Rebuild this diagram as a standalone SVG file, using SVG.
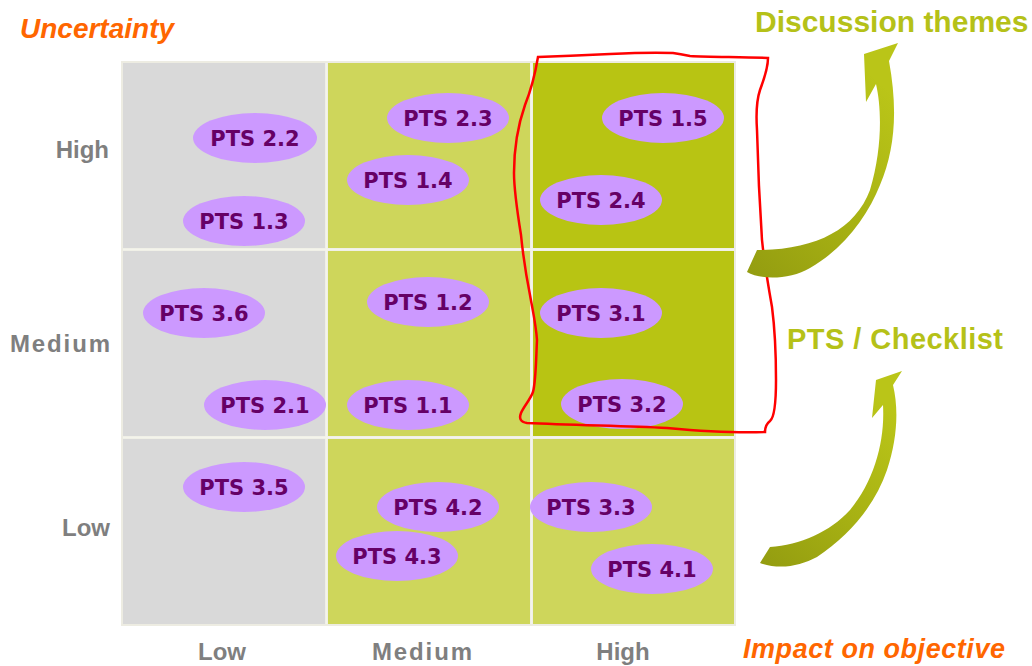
<svg xmlns="http://www.w3.org/2000/svg" width="1032" height="666" viewBox="0 0 1032 666">
<style>
.pill{fill:#CC99FF}
.pt{font-family:"DejaVu Sans",Verdana,sans-serif;font-weight:bold;font-size:21px;fill:#660066;text-anchor:middle}
.ax{font-family:"Liberation Sans",Arial,sans-serif;font-weight:bold;font-size:24px;fill:#7F7F7F}
.or{font-family:"Liberation Sans",Arial,sans-serif;font-weight:bold;font-style:italic;fill:#FF6600}
.gr{font-family:"Liberation Sans",Arial,sans-serif;font-weight:bold;fill:#B5C118}
.grey{fill:#D9D9D9}.lg{fill:#CED65B}.dg{fill:#B8C413}
</style>
<defs>
<linearGradient id="ag" x1="0" y1="1" x2="0.6" y2="0">
<stop offset="0" stop-color="#939C10"/>
<stop offset="0.45" stop-color="#A6B013"/>
<stop offset="1" stop-color="#BAC518"/>
</linearGradient>
</defs>
<rect width="1032" height="666" fill="#FFFFFF"/>
<g id="grid">
<rect x="121" y="61" width="615" height="565" fill="#EDECE2"/>
<rect class="grey" x="123" y="63" width="202" height="185"/>
<rect class="grey" x="123" y="251" width="202" height="185"/>
<rect class="grey" x="123" y="439" width="202" height="185"/>
<rect class="lg" x="328" y="63" width="202" height="185"/>
<rect class="lg" x="328" y="251" width="202" height="185"/>
<rect class="lg" x="328" y="439" width="202" height="185"/>
<rect class="dg" x="533" y="63" width="201" height="185"/>
<rect class="dg" x="533" y="251" width="201" height="185"/>
<rect class="lg" x="533" y="439" width="201" height="185"/>
<line x1="326.5" y1="63" x2="326.5" y2="624" stroke="#F4F4EC" stroke-width="2"/>
<line x1="531.5" y1="63" x2="531.5" y2="624" stroke="#F4F4EC" stroke-width="2"/>
<line x1="123" y1="249.5" x2="734" y2="249.5" stroke="#F4F4EC" stroke-width="2"/>
<line x1="123" y1="437.5" x2="734" y2="437.5" stroke="#F4F4EC" stroke-width="2"/>
</g>
<g id="labels">
<text class="or" x="20" y="38" font-size="28">Uncertainty</text>
<text class="or" x="743" y="658" font-size="27" textLength="262">Impact on objective</text>
<text class="gr" x="755" y="32" font-size="30">Discussion themes</text>
<text class="gr" x="787" y="349" font-size="29" textLength="216">PTS / Checklist</text>
<text class="ax" x="109" y="158" text-anchor="end">High</text>
<text class="ax" x="110" y="352" text-anchor="end" textLength="100">Medium</text>
<text class="ax" x="110" y="536" text-anchor="end">Low</text>
<text class="ax" x="222" y="660" text-anchor="middle">Low</text>
<text class="ax" x="422" y="660" text-anchor="middle" textLength="100">Medium</text>
<text class="ax" x="623" y="660" text-anchor="middle">High</text>
</g>
<g id="pts-2-2"><ellipse class="pill" cx="255" cy="138" rx="62" ry="25"/><text class="pt" x="255" y="146">PTS 2.2</text></g>
<g id="pts-1-3"><ellipse class="pill" cx="244" cy="221" rx="61" ry="25"/><text class="pt" x="244" y="229">PTS 1.3</text></g>
<g id="pts-2-3"><ellipse class="pill" cx="448" cy="118" rx="61" ry="25"/><text class="pt" x="448" y="126">PTS 2.3</text></g>
<g id="pts-1-4"><ellipse class="pill" cx="408" cy="180" rx="61" ry="25"/><text class="pt" x="408" y="188">PTS 1.4</text></g>
<g id="pts-1-5"><ellipse class="pill" cx="663" cy="118" rx="61" ry="25"/><text class="pt" x="663" y="126">PTS 1.5</text></g>
<g id="pts-2-4"><ellipse class="pill" cx="601" cy="200" rx="61" ry="25"/><text class="pt" x="601" y="208">PTS 2.4</text></g>
<g id="pts-3-6"><ellipse class="pill" cx="204" cy="313" rx="61" ry="25"/><text class="pt" x="204" y="321">PTS 3.6</text></g>
<g id="pts-1-2"><ellipse class="pill" cx="428" cy="302" rx="61" ry="25"/><text class="pt" x="428" y="310">PTS 1.2</text></g>
<g id="pts-3-1"><ellipse class="pill" cx="601" cy="313" rx="61" ry="25"/><text class="pt" x="601" y="321">PTS 3.1</text></g>
<g id="pts-2-1"><ellipse class="pill" cx="265" cy="405" rx="61" ry="25"/><text class="pt" x="265" y="413">PTS 2.1</text></g>
<g id="pts-1-1"><ellipse class="pill" cx="408" cy="405" rx="61" ry="25"/><text class="pt" x="408" y="413">PTS 1.1</text></g>
<g id="pts-3-2"><ellipse class="pill" cx="622" cy="404" rx="61" ry="25"/><text class="pt" x="622" y="412">PTS 3.2</text></g>
<g id="pts-3-5"><ellipse class="pill" cx="244" cy="487" rx="61" ry="25"/><text class="pt" x="244" y="495">PTS 3.5</text></g>
<g id="pts-4-2"><ellipse class="pill" cx="438" cy="507" rx="61" ry="25"/><text class="pt" x="438" y="515">PTS 4.2</text></g>
<g id="pts-4-3"><ellipse class="pill" cx="397" cy="556" rx="61" ry="25"/><text class="pt" x="397" y="564">PTS 4.3</text></g>
<g id="pts-3-3"><ellipse class="pill" cx="591" cy="507" rx="61" ry="25"/><text class="pt" x="591" y="515">PTS 3.3</text></g>
<g id="pts-4-1"><ellipse class="pill" cx="652" cy="569" rx="61" ry="25"/><text class="pt" x="652" y="577">PTS 4.1</text></g>
<g id="highlight">
<path d="M538,57 C560,56 590,55 610,54 C630,53 650,52 673,53 C680,54 685,55 690,56 C710,57 740,57 768,58 C768,66 766,74 760,90 C756,102 756,115 757,130 C758,170 760,210 762,240 C764,260 769,290 772,307 C775,330 776,360 776,380 C776,400 775,417 770,421 C766,424 765,428 765,432 C740,433 700,431 667,428 C620,426 570,425 527,423 C520,422 519,418 521,413 C524,406 530,400 533,392 C536,380 536,360 537,340 C536,325 533,312 530,295 C526,275 523,255 521,235 C517,210 514,190 514,173 C514,150 518,125 525,105 C531,90 535,75 538,57 Z" fill="none" stroke="#FF0000" stroke-width="2.5"/>
</g>
<g id="connectors">
<path d="M898,43 L864,54 L866,102 L876,84 C882,110 882,150 870,190 C855,230 815,250 757,250 L747,272 C760,280 790,280 810,268 C845,248 868,215 880,185 C895,150 898,110 889,61 Z" fill="url(#ag)"/>
<path d="M902,371 L876,380 L872,418 L883,405 C885,440 875,480 850,510 C830,532 800,545 770,547 L760,563 C780,570 800,566 817,557 C850,535 875,505 887,470 C897,440 899,410 893,385 Z" fill="url(#ag)"/>
</g>
</svg>
